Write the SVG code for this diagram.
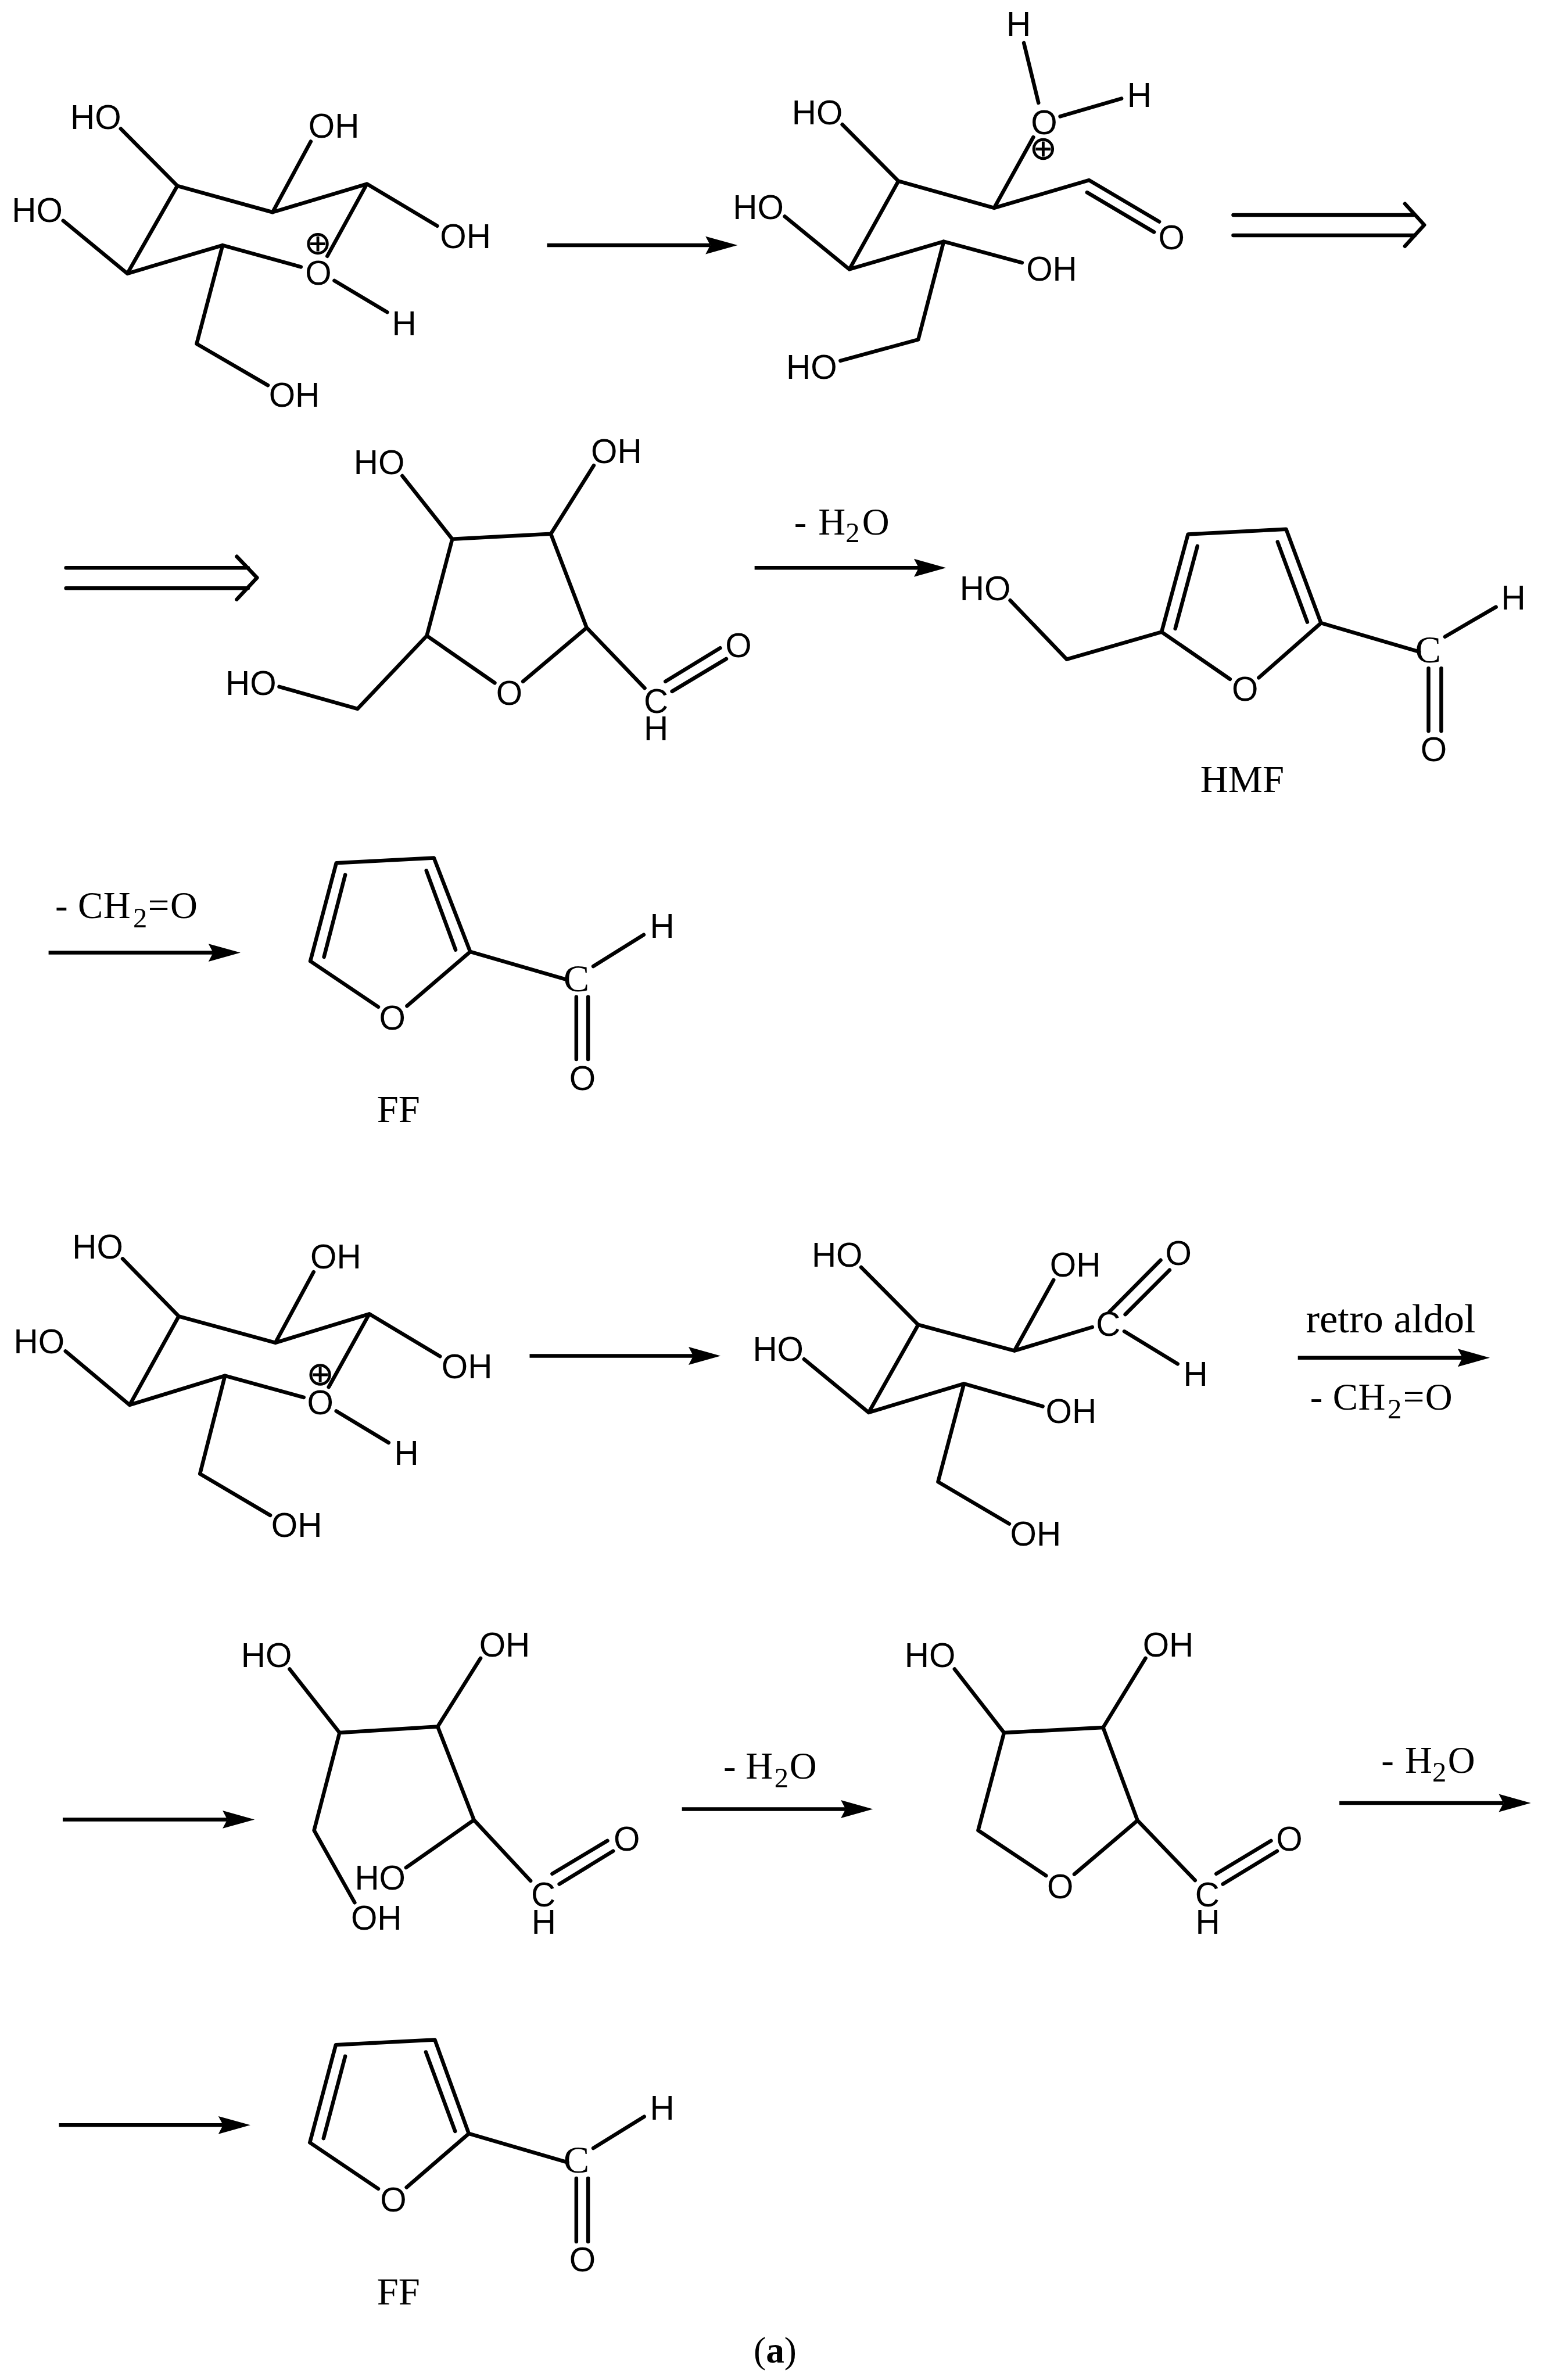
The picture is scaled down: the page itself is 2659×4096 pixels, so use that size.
<svg xmlns="http://www.w3.org/2000/svg" width="2659" height="4096" viewBox="0 0 2659 4096">
<style>
.bond{fill:none;stroke:#000;stroke-width:8;stroke-linecap:round;stroke-linejoin:round}
.arrow{fill:none;stroke:#000;stroke-width:8}
.darrow{fill:none;stroke:#000;stroke-width:8;stroke-linecap:round;stroke-linejoin:round}
.a{font-family:"Liberation Sans",Arial,sans-serif;font-size:72px;text-anchor:middle;fill:#000}
.c{font-family:"Liberation Serif","Times New Roman",serif;font-size:82px;text-anchor:middle;fill:#000}
.r{font-family:"Liberation Serif","Times New Roman",serif;font-size:80px;fill:#000}
.sub{font-size:60px}
</style>
<defs>
<marker id="head" markerUnits="userSpaceOnUse" markerWidth="70" markerHeight="40" viewBox="0 0 70 40" refX="11" refY="20" orient="auto">
<path d="M1 1L69 20L1 39L11 20Z" fill="#000"/>
</marker>
<g id="plus"><circle r="20" fill="none" stroke="#000" stroke-width="6"/><path d="M-16 0H16M0 -16V16" stroke="#000" stroke-width="6" fill="none"/></g>
</defs>
<rect width="2659" height="4096" fill="#fff"/>
<g transform="scale(0.81166)">
<g id="connectors">
<path class="arrow" d="M1160 520H1506" marker-end="url(#head)"/>
<path class="darrow" d="M2615 456H3000M2615 499H3000M2979 432L3020 477L2979 522"/>
<path class="darrow" d="M140 1204H526M140 1247H526M502 1180L545 1225L502 1271"/>
<path class="arrow" d="M1600 1204H1948" marker-end="url(#head)"/>
<path class="arrow" d="M103 2020H452" marker-end="url(#head)"/>
<path class="arrow" d="M1123 2875H1470" marker-end="url(#head)"/>
<path class="arrow" d="M2752 2879H3101" marker-end="url(#head)"/>
<path class="arrow" d="M133 3858H482" marker-end="url(#head)"/>
<path class="arrow" d="M1446 3836H1793" marker-end="url(#head)"/>
<path class="arrow" d="M2840 3823H3188" marker-end="url(#head)"/>
<path class="arrow" d="M125 4506H473" marker-end="url(#head)"/>
</g>
<g id="mol-1">
<path class="bond" d="M256 273L376 394L578 450L778 390L927 479M659 300L578 450M778 390L694 543M376 394L270 580L472 520L638 566M134 468L270 580M472 520L417 729L568 817M709 595L821 662"/>
<text class="a" x="203" y="273">HO</text><text class="a" x="708" y="292">OH</text><text class="a" x="79" y="471">HO</text><text class="a" x="987" y="526">OH</text><text class="a" x="675" y="604">O</text><text class="a" x="857" y="711">H</text><text class="a" x="624" y="863">OH</text>
<use href="#plus" x="674" y="517"/>
</g>
<g id="mol-2">
<path class="bond" d="M1786 264L1905 384L2108 441L2309 382L2458 470M2305 408L2447 492M2191 291L2108 441M2202 218L2171 91M2248 247L2378 209M1905 384L1801 571L2001 512L2167 557M1664 459L1801 571M2001 512L1947 720L1782 765"/>
<text class="a" x="2160" y="77">H</text><text class="a" x="1733" y="264">HO</text><text class="a" x="2214" y="284">O</text><text class="a" x="2416" y="227">H</text><text class="a" x="1608" y="465">HO</text><text class="a" x="2484" y="529">O</text><text class="a" x="2230" y="595">OH</text><text class="a" x="1721" y="803">HO</text>
<use href="#plus" x="2212" y="316"/>
</g>
<g id="mol-3">
<path class="bond" d="M853 1009L959 1143L1168 1132L1244 1331L1109 1445M1259 987L1168 1132M959 1143L905 1348L1049 1448M905 1348L758 1503L592 1456M1244 1331L1367 1459M1411 1445L1527 1374M1425 1466L1540 1397"/>
<text class="a" x="804" y="1005">HO</text><text class="a" x="1307" y="982">OH</text><text class="a" x="532" y="1474">HO</text><text class="a" x="1080" y="1495">O</text><text class="a"><tspan x="1391" y="1512">C</tspan><tspan x="1391" y="1570">H</tspan></text><text class="a" x="1566" y="1394">O</text>
</g>
<g id="label-h2o-1"><text class="r" y="1133"><tspan x="1684">-</tspan><tspan x="1735">H</tspan><tspan class="sub" x="1793" y="1150">2</tspan><tspan x="1828" y="1133">O</tspan></text></g>
<g id="hmf">
<path class="bond" d="M2142 1273L2262 1398L2463 1340L2519 1133L2727 1122L2801 1321L2669 1437M2463 1340L2608 1440M2539 1158L2492 1333M2709 1149L2772 1319M2801 1321L3009 1382M3064 1350L3172 1287M3029 1417V1550M3056 1417V1550"/>
<text class="a" x="2089" y="1273">HO</text><text class="a" x="2640" y="1486">O</text><text class="c" x="3028" y="1405">C</text><text class="a" x="3209" y="1293">H</text><text class="a" x="3040" y="1614">O</text><text class="c" x="2634" y="1679">HMF</text>
</g>
<g id="label-ch2o-1"><text class="r" y="1947"><tspan x="117">-</tspan><tspan x="165">C</tspan><tspan x="219">H</tspan><tspan class="sub" x="282" y="1966">2</tspan><tspan x="314" y="1947">=</tspan><tspan x="361">O</tspan></text></g>
<g id="ff-1">
<path class="bond" d="M658 2038L713 1830L920 1819L997 2018L863 2133M658 2038L802 2135M732 1855L687 2029M904 1846L966 2014M997 2018L1198 2076M1258 2049L1365 1982M1222 2114V2246M1247 2114V2246"/>
<text class="a" x="832" y="2183">O</text><text class="c" x="1222" y="2102">C</text><text class="a" x="1404" y="1989">H</text><text class="a" x="1235" y="2311">O</text><text class="c" x="845" y="2379">FF</text>
</g>
<g id="mol-4">
<path class="bond" d="M260 2669L379 2791L584 2847L783 2786L933 2876M665 2697L584 2847M783 2786L697 2941M379 2791L275 2979L477 2917L644 2963M139 2865L275 2979M477 2917L424 3125L573 3213M713 2992L824 3059"/>
<text class="a" x="207" y="2669">HO</text><text class="a" x="712" y="2689">OH</text><text class="a" x="83" y="2869">HO</text><text class="a" x="990" y="2922">OH</text><text class="a" x="679" y="2999">O</text><text class="a" x="862" y="3106">H</text><text class="a" x="629" y="3259">OH</text>
<use href="#plus" x="679" y="2915"/>
</g>
<g id="mol-5">
<path class="bond" d="M1826 2687L1947 2809L2151 2864L2316 2814M2234 2714L2151 2864M2352 2782L2461 2672M2386 2787L2480 2693M2384 2823L2497 2892M1947 2809L1842 2995L2044 2934L2211 2982M1705 2882L1842 2995M2044 2934L1989 3142L2140 3231"/>
<text class="a" x="1775" y="2686">HO</text><text class="a" x="2280" y="2707">OH</text><text class="a" x="2499" y="2682">O</text><text class="a" x="2350" y="2833">C</text><text class="a" x="2535" y="2939">H</text><text class="a" x="1650" y="2886">HO</text><text class="a" x="2271" y="3017">OH</text><text class="a" x="2196" y="3277">OH</text>
</g>
<g id="label-retro"><text class="r" style="font-size:87px" x="2769" y="2825">retro aldol</text><text class="r" y="2989"><tspan x="2778">-</tspan><tspan x="2826">C</tspan><tspan x="2880">H</tspan><tspan class="sub" x="2942" y="3008">2</tspan><tspan x="2975" y="2989">=</tspan><tspan x="3022">O</tspan></text></g>
<g id="mol-6">
<path class="bond" d="M614 3539L720 3674L928 3661L1005 3859L1125 3988M1019 3516L928 3661M720 3674L666 3881L752 4034M1005 3859L861 3960M1171 3973L1288 3903M1186 3995L1300 3925"/>
<text class="a" x="565" y="3535">HO</text><text class="a" x="1070" y="3512">OH</text><text class="a" x="806" y="4007">HO</text><text class="a" x="798" y="4092">OH</text><text class="a"><tspan x="1152" y="4042">C</tspan><tspan x="1153" y="4100">H</tspan></text><text class="a" x="1329" y="3924">O</text>
</g>
<g id="label-h2o-2"><text class="r" y="3771"><tspan x="1534">-</tspan><tspan x="1581">H</tspan><tspan class="sub" x="1642" y="3790">2</tspan><tspan x="1674" y="3771">O</tspan></text></g>
<g id="mol-7">
<path class="bond" d="M2024 3539L2129 3674L2339 3663L2412 3860L2278 3974M2429 3516L2339 3663M2129 3674L2074 3881L2218 3977M2412 3860L2534 3987M2579 3973L2695 3903M2593 3995L2708 3925"/>
<text class="a" x="1972" y="3535">HO</text><text class="a" x="2477" y="3512">OH</text><text class="a" x="2248" y="4025">O</text><text class="a"><tspan x="2560" y="4042">C</tspan><tspan x="2561" y="4100">H</tspan></text><text class="a" x="2734" y="3924">O</text>
</g>
<g id="label-h2o-3"><text class="r" y="3759"><tspan x="2929">-</tspan><tspan x="2979">H</tspan><tspan class="sub" x="3037" y="3777">2</tspan><tspan x="3070" y="3759">O</tspan></text></g>
<g id="ff-2">
<path class="bond" d="M657 4543L712 4336L922 4325L994 4524L862 4638M657 4543L802 4641M732 4360L686 4534M903 4351L965 4519M994 4524L1203 4585M1258 4555L1366 4488M1222 4619V4753M1247 4619V4753"/>
<text class="a" x="834" y="4689">O</text><text class="c" x="1222" y="4606">C</text><text class="a" x="1404" y="4495">H</text><text class="a" x="1235" y="4816">O</text><text class="c" x="845" y="4886">FF</text>
</g>
<g id="caption"><text class="r" style="font-size:78px" x="1598" y="5010">(<tspan font-weight="bold">a</tspan>)</text></g>
</g>
</svg>
